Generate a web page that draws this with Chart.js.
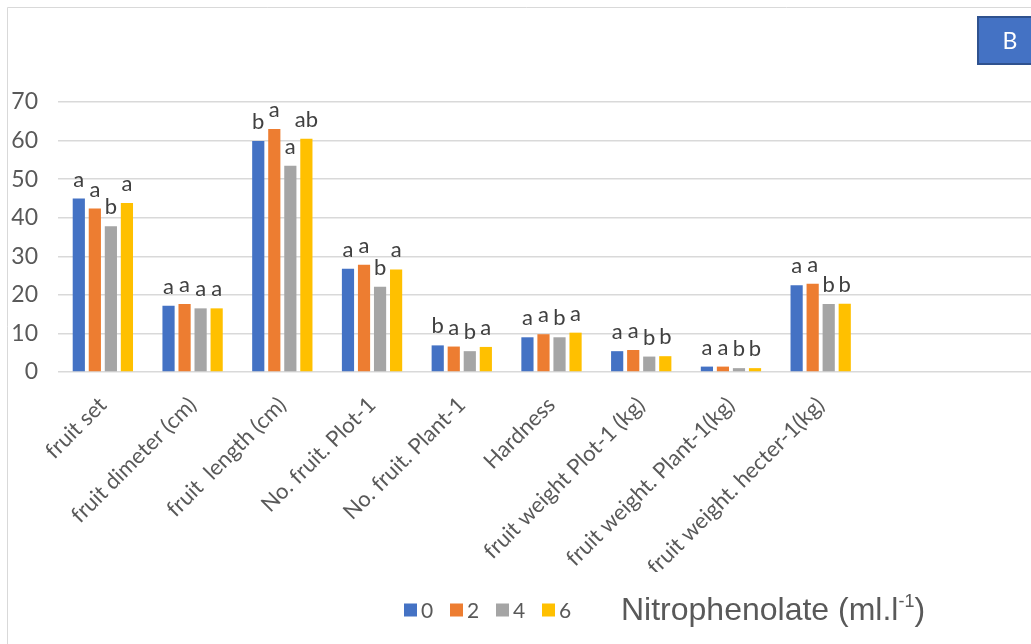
<!DOCTYPE html>
<html>
<head>
<meta charset="utf-8">
<script src="https://cdn.jsdelivr.net/npm/chart.js@4.4.1/dist/chart.umd.min.js"></script>
<style>
  html, body { margin: 0; padding: 0; background: #ffffff; overflow: hidden; }
  #wrap { width: 1031px; height: 644px; overflow: hidden; position: relative; }
  canvas { display: block; }
</style>
</head>
<body>
<div id="wrap"><canvas id="chart" width="1045" height="644"></canvas></div>
<script>
// Measured traits
const categories = [
  "fruit set",
  "fruit dimeter (cm)",
  "fruit  length (cm)",
  "No. fruit. Plot-1",
  "No. fruit. Plant-1",
  "Hardness",
  "fruit weight Plot-1 (kg)",
  "fruit weight. Plant-1(kg)",
  "fruit weight. hecter-1(kg)",
  "",
  ""
];

// Nitrophenolate doses (ml.l-1)
const doseLabels = ["0", "2", "4", "6"];

const dose0 = [45.0, 17.2, 59.9, 26.8, 6.9, 9.0, 5.4, 1.4, 22.5];
const dose2 = [42.4, 17.6, 63.0, 27.8, 6.6, 9.8, 5.7, 1.4, 22.9];
const dose4 = [37.8, 16.5, 53.5, 22.1, 5.4, 9.0, 4.0, 1.0, 17.6];
const dose6 = [43.8, 16.5, 60.5, 26.6, 6.5, 10.2, 4.1, 1.0, 17.7];

// Significance letters (Duncan grouping) per dose
const letters0 = ["a", "a", "b", "a", "b", "a", "a", "a", "a"];
const letters2 = ["a", "a", "a", "a", "a", "a", "a", "a", "a"];
const letters4 = ["b", "a", "a", "b", "b", "b", "b", "b", "b"];
const letters6 = ["a", "a", "ab", "a", "a", "a", "b", "b", "b"];

const yTicks = [0, 10, 20, 30, 40, 50, 60, 70];

const colors = ["#4472C4", "#ED7D31", "#A5A5A5", "#FFC000"];
const seriesValues = [dose0, dose2, dose4, dose6];
const seriesLetters = [letters0, letters2, letters4, letters6];

const datasets = seriesValues.map((vals, i) => ({
  label: doseLabels[i],
  data: vals,
  backgroundColor: colors[i],
  borderWidth: 0,
  categoryPercentage: 0.715,
  barPercentage: 0.76,
  letters: seriesLetters[i]
}));

// Outer frame and the "B" panel tag
const framePlugin = {
  id: "frame",
  beforeDraw(chart) {
    const ctx = chart.ctx;
    ctx.save();
    ctx.fillStyle = "#ffffff";
    ctx.fillRect(0, 0, chart.width, chart.height);
    ctx.strokeStyle = "#d9d9d9";
    ctx.lineWidth = 1;
    ctx.beginPath();
    ctx.moveTo(7.5, chart.height + 5);
    ctx.lineTo(7.5, 7.5);
    ctx.lineTo(chart.width + 5, 7.5);
    ctx.stroke();
    ctx.restore();
  },
  afterDraw(chart) {
    const ctx = chart.ctx;
    ctx.save();
    ctx.fillStyle = "#4472C4";
    ctx.fillRect(977, 16, 66, 49);
    ctx.strokeStyle = "#2F528F";
    ctx.lineWidth = 2;
    ctx.strokeRect(978, 17, 64, 47);
    ctx.fillStyle = "#ffffff";
    ctx.font = "23px Lato";
    ctx.textAlign = "center";
    ctx.textBaseline = "middle";
    ctx.fillText("B", 1010, 42);
    ctx.restore();
  }
};

// Letters above each bar
const lettersPlugin = {
  id: "letters",
  afterDatasetsDraw(chart) {
    const ctx = chart.ctx;
    ctx.save();
    ctx.font = "22px Lato";
    ctx.fillStyle = "#404040";
    ctx.textAlign = "center";
    ctx.textBaseline = "bottom";
    chart.data.datasets.forEach((ds, i) => {
      const meta = chart.getDatasetMeta(i);
      meta.data.forEach((bar, j) => {
        const t = ds.letters[j];
        if (!t) return;
        ctx.fillText(t, bar.x, bar.y - 8);
      });
    });
    ctx.restore();
  }
};

// Bottom legend with the dose title
const legendPlugin = {
  id: "doseLegend",
  afterDraw(chart) {
    const ctx = chart.ctx;
    ctx.save();
    let x = 404;
    const yMid = 610;
    ctx.textBaseline = "middle";
    ctx.textAlign = "left";
    chart.data.datasets.forEach((ds) => {
      ctx.fillStyle = ds.backgroundColor;
      ctx.fillRect(x, yMid - 6.5, 13, 13);
      ctx.fillStyle = "#595959";
      ctx.font = "21px Lato";
      ctx.fillText(ds.label, x + 17, yMid + 1);
      x += 46;
    });
    ctx.fillStyle = "#595959";
    ctx.font = "32px 'Liberation Sans'";
    const main = "Nitrophenolate (ml.l";
    const startX = 621;
    ctx.fillText(main, startX, yMid + 1);
    let w = ctx.measureText(main).width;
    ctx.font = "18px 'Liberation Sans'";
    ctx.fillText("-1", startX + w, yMid - 8);
    w += ctx.measureText("-1").width;
    ctx.font = "32px 'Liberation Sans'";
    ctx.fillText(")", startX + w, yMid + 1);
    ctx.restore();
  }
};

new Chart(document.getElementById("chart"), {
  type: "bar",
  data: { labels: categories, datasets },
  options: {
    responsive: false,
    animation: false,
    devicePixelRatio: 1,
    layout: { padding: { top: 102, left: 10, right: 0, bottom: 72 } },
    plugins: {
      legend: { display: false },
      tooltip: { enabled: false }
    },
    scales: {
      x: {
        grid: { display: false },
        border: { display: false },
        afterFit(scale) { scale.height = 200; },
        ticks: {
          color: "#595959",
          font: { family: "Lato", size: 22 },
          minRotation: 45,
          maxRotation: 45,
          autoSkip: false,
          padding: 12
        }
      },
      y: {
        min: 0,
        max: 70,
        afterBuildTicks(scale) {
          scale.ticks = yTicks.map(v => ({ value: v }));
        },
        afterFit(scale) { scale.width = 48; },
        grid: { color: "#d9d9d9", lineWidth: 1.5, drawTicks: false },
        border: { display: false },
        ticks: {
          color: "#595959",
          font: { family: "Lato", size: 23 },
          padding: 20
        }
      }
    }
  },
  plugins: [framePlugin, lettersPlugin, legendPlugin]
});
</script>
</body>
</html>
